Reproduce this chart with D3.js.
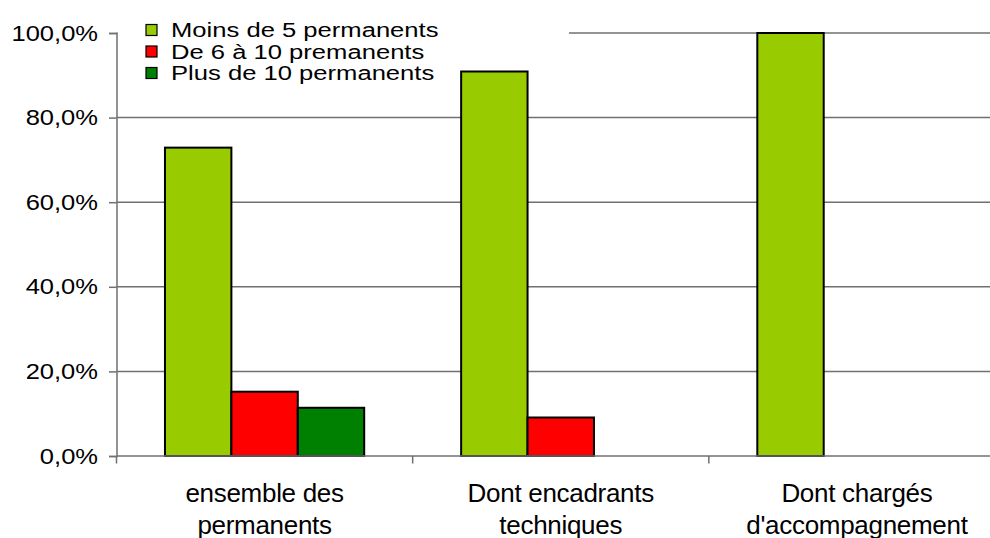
<!DOCTYPE html>
<html>
<head>
<meta charset="utf-8">
<script src="https://cdn.jsdelivr.net/npm/d3@7"></script>
<style>
  html, body { margin: 0; padding: 0; background: #fff; }
  svg { display: block; }
  text { font-family: "Liberation Sans", Arial, sans-serif; fill: #000; }
</style>
</head>
<body>
<svg id="chart" width="990" height="538"></svg>
<script>
const categories = [["ensemble des", "permanents"], ["Dont encadrants", "techniques"], ["Dont chargés", "d'accompagnement"]];
const seriesNames = ["Moins de 5 permanents", "De 6 à 10 premanents", "Plus de 10 permanents"];
const seriesColors = ["#99CC00", "#FF0000", "#008000"];
const moinsDe5 = [72.9, 90.9, 100.0];
const de6a10 = [15.2, 9.1, 0];
const plusDe10 = [11.4, 0, 0];
const yTicks = [0, 20, 40, 60, 80, 100];
const yTickLabels = ["0,0%", "20,0%", "40,0%", "60,0%", "80,0%", "100,0%"];

(function () {
const series = [moinsDe5, de6a10, plusDe10];
const svg = d3.select("#chart");

const pLeft = 116.5, pRight = 1005, pTop = 33, pBottom = 456;
const x = d3.scaleBand().domain(d3.range(categories.length)).range([pLeft, pRight]).paddingInner(0).paddingOuter(0);
const inner = d3.scaleBand().domain(d3.range(series.length)).range([0, x.bandwidth()]).paddingOuter(0.73).paddingInner(0);
const y = d3.scaleLinear().domain([0, 100]).range([pBottom, pTop]);

const SX = 1.16;
const grid = "#707070";

// gridlines
svg.append("g").selectAll("line").data(yTicks.filter(t => t > 0)).join("line")
  .attr("x1", pLeft).attr("x2", pRight)
  .attr("y1", d => y(d)).attr("y2", d => y(d))
  .attr("stroke", grid).attr("stroke-width", 1.5);

// legend background (hides gridline)
svg.append("rect").attr("x", pLeft + 1).attr("y", 8).attr("width", 569 - pLeft - 1).attr("height", 76).attr("fill", "#fff");

// bars
const gBars = svg.append("g");
series.forEach((vals, si) => {
  gBars.append("g").selectAll("rect").data(vals.map((v, ci) => ({v, ci})).filter(d => d.v > 0)).join("rect")
    .attr("x", d => x(d.ci) + inner(si))
    .attr("width", inner.bandwidth())
    .attr("y", d => y(d.v))
    .attr("height", d => y(0) - y(d.v))
    .attr("fill", seriesColors[si])
    .attr("stroke", "#000").attr("stroke-width", 2);
});

// y axis
const yAxis = d3.axisLeft(y).tickValues(yTicks).tickSize(7.5).tickFormat("");
const gy = svg.append("g").attr("transform", `translate(${pLeft},0)`).call(yAxis);
gy.select(".domain").attr("stroke", grid).attr("stroke-width", 1.5);
gy.selectAll(".tick line").attr("stroke", grid).attr("stroke-width", 1.5);
svg.append("g").selectAll("text").data(yTicks).join("text")
  .attr("transform", d => `translate(${98},${y(d) + 7.5}) scale(${SX},1)`)
  .attr("text-anchor", "end")
  .style("font-size", "22px")
  .text((d, i) => yTickLabels[i]);

// x axis
const xAxis = d3.axisBottom(x).tickSize(0).tickFormat("");
const gx = svg.append("g").attr("transform", `translate(0,${pBottom})`).call(xAxis);
gx.select(".domain").attr("d", `M${pLeft},0H${pRight}`).attr("stroke", grid).attr("stroke-width", 1.5);
gx.selectAll(".tick").remove();
const boundaries = d3.range(categories.length + 1).map(i => pLeft + i * x.step());
gx.selectAll("line.b").data(boundaries).join("line").attr("class", "b")
  .attr("x1", d => d).attr("x2", d => d).attr("y1", 0).attr("y2", 7.5)
  .attr("stroke", grid).attr("stroke-width", 1.5);

const catText = svg.append("g").selectAll("text").data(categories).join("text")
  .attr("text-anchor", "middle")
  .style("font-size", "26px")
  .style("letter-spacing", "-0.3px");
catText.each(function(lines, i) {
  const t = d3.select(this);
  lines.forEach((ln, k) => {
    t.append("tspan").attr("x", x(i) + x.bandwidth() / 2).attr("y", 502 + k * 31.5).text(ln);
  });
});

// legend
const lg = svg.append("g");
seriesNames.forEach((name, i) => {
  const base = 37 + i * 21.5;
  lg.append("rect").attr("x", 146).attr("y", base - 12.5).attr("width", 11).attr("height", 11)
    .attr("fill", seriesColors[i]).attr("stroke", "#000").attr("stroke-width", 1.2);
  lg.append("text").attr("transform", `translate(171,${base}) scale(1.28,1)`)
    .style("font-size", "20px").text(name);
});
})();
</script>
</body>
</html>
